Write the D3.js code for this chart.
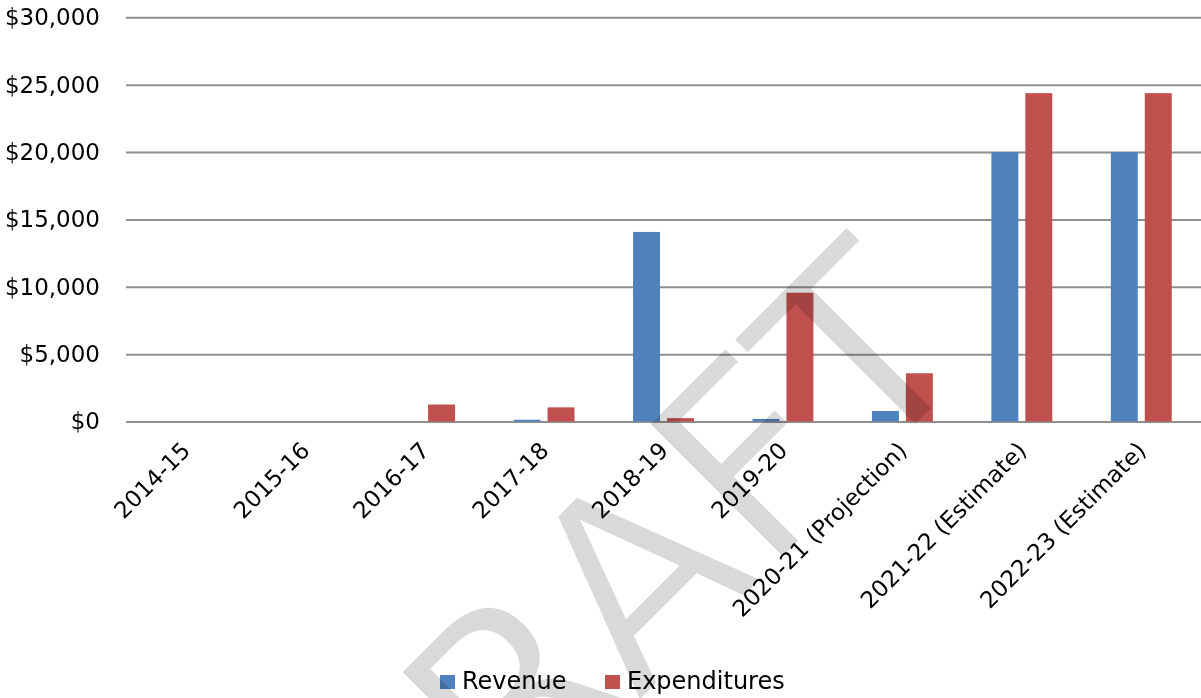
<!DOCTYPE html>
<html>
<head>
<meta charset="utf-8">
<script src="https://cdn.jsdelivr.net/npm/d3@7"></script>
<style>
  body { margin: 0; background: #fff; }
  svg { display: block; }
  text { font-family: "DejaVu Sans", sans-serif; fill: #000; }
</style>
</head>
<body>
<script>
// Data
const categories = ["2014-15", "2015-16", "2016-17", "2017-18", "2018-19", "2019-20",
    "2020-21 (Projection)", "2021-22 (Estimate)", "2022-23 (Estimate)"];
const seriesNames = ["Revenue", "Expenditures"];
const revenue = [0, 0, 0, 130, 14070, 190, 780, 20000, 20000];
const expenditures = [0, 0, 1260, 1050, 250, 9560, 3580, 24370, 24370];
const yTicks = [0, 5000, 10000, 15000, 20000, 25000, 30000];

const width = 1201,
    height = 698,
    plotLeft = 126,
    plotRight = 1201,
    plotTop = 17.3,
    plotBottom = 421.5;

const color = d3.scaleOrdinal().domain(seriesNames).range(["#4F81BD", "#C0504D"]);

let svg = d3.select('body').append('svg')
    .attr('width', width)
    .attr('height', height);

// Scales
const x0 = d3.scaleBand().domain(categories).range([plotLeft, plotRight]);
const x1 = d3.scaleBand().domain(seriesNames)
    .range([x0.bandwidth() * 0.245, x0.bandwidth() * 0.755])
    .paddingInner(7 / 34);
const y = d3.scaleLinear().domain([0, 30000]).range([plotBottom, plotTop]);

// Gridlines + y labels
const yAxis = d3.axisLeft(y)
    .tickValues(yTicks)
    .tickSize(-(plotRight - plotLeft))
    .tickPadding(26)
    .tickFormat(d => '$' + d3.format(',')(d));

svg.append('g')
    .attr('transform', 'translate(' + plotLeft + ',0)')
    .call(yAxis)
    .call(g => g.select('.domain').remove())
    .call(g => g.selectAll('.tick line').attr('stroke', '#8f8f8f').attr('stroke-width', 2))
    .call(g => g.selectAll('.tick text')
        .attr('font-size', 23)
        .attr('font-family', '"DejaVu Sans", sans-serif')
        .attr('fill', '#000'));

// Bars
const rows = categories.map((c, i) => ({ cat: c, values: [revenue[i], expenditures[i]] }));

svg.append('g')
    .selectAll('g')
    .data(rows).enter()
    .append('g')
    .attr('transform', d => 'translate(' + x0(d.cat) + ',0)')
    .selectAll('rect')
    .data(d => d.values.map((v, i) => ({ key: seriesNames[i], value: v })))
    .enter()
    .append('rect')
    .attr('x', d => x1(d.key))
    .attr('width', x1.bandwidth())
    .attr('y', d => y(d.value))
    .attr('height', d => y(0) - y(d.value))
    .attr('fill', d => color(d.key));

// Category labels, rotated
svg.append('g')
    .selectAll('text')
    .data(categories).enter()
    .append('text')
    .attr('transform', d => 'translate(' + (x0(d) + x0.bandwidth() / 2 + 6) + ',452) rotate(-45)')
    .attr('text-anchor', 'end')
    .attr('font-size', 23)
    .text(d => d);

// Legend
const legendX = [440, 605];
let legend = svg.append('g')
    .selectAll('g')
    .data(seriesNames).enter()
    .append('g')
    .attr('transform', (d, i) => 'translate(' + legendX[i] + ',675)');

legend.append('rect')
    .attr('width', 15)
    .attr('height', 14)
    .attr('fill', d => color(d));

legend.append('text')
    .attr('x', 22)
    .attr('y', 14)
    .attr('font-size', 24)
    .text(d => d);

// DRAFT watermark on top (white outline thins the glyphs, multiply keeps it see-through)
svg.append('text')
    .attr('transform', 'translate(374,968) rotate(-45)')
    .attr('font-family', '"Liberation Sans", Arial, sans-serif')
    .attr('font-size', 262)
    .style('fill', '#d9d9d9')
    .style('stroke', '#fff')
    .style('stroke-width', 4)
    .style('mix-blend-mode', 'multiply')
    .text('DRAFT');
</script>
</body>
</html>
